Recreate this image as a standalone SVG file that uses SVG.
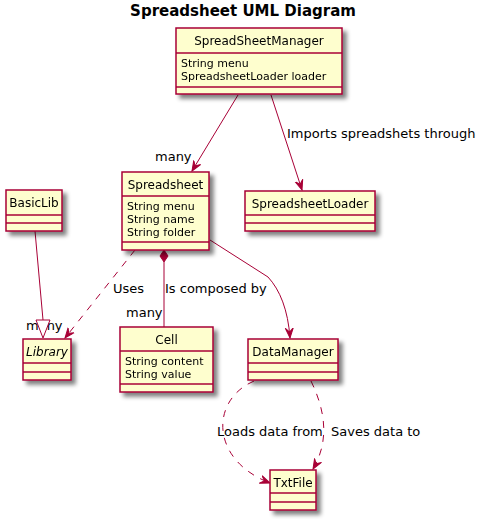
<svg xmlns="http://www.w3.org/2000/svg" width="485" height="519" viewBox="0 0 485 519">
<defs>
<filter id="sh" x="-20%" y="-20%" width="150%" height="150%">
<feGaussianBlur in="SourceAlpha" stdDeviation="2"/>
<feOffset dx="4" dy="4" result="b"/>
<feComponentTransfer><feFuncA type="linear" slope="0.5"/></feComponentTransfer>
<feMerge><feMergeNode/><feMergeNode in="SourceGraphic"/></feMerge>
</filter>
<marker id="arr" markerWidth="12" markerHeight="12" viewBox="0 0 12 12" refX="10" refY="6" orient="auto" markerUnits="userSpaceOnUse">
<path d="M0,2 L10,6 L0,10 L4,6 Z" fill="#A80036" stroke="#A80036" stroke-width="1"/>
</marker>
</defs>
<style>
.box{fill:#FEFECE;stroke:#A80036;stroke-width:1.5}
.sep{stroke:#A80036;stroke-width:1.5}
.nm{font-family:"DejaVu Sans",sans-serif;font-size:12px;fill:#000;text-anchor:middle}
.at{font-family:"DejaVu Sans",sans-serif;font-size:11px;fill:#000}
.lb{font-family:"DejaVu Sans",sans-serif;font-size:13px;fill:#000}
.ln{fill:none;stroke:#A80036;stroke-width:1}
.ds{stroke-dasharray:7,7}
.title{font-family:"DejaVu Sans",sans-serif;font-size:15px;font-weight:bold;fill:#000;text-anchor:middle}
</style>
<text class="title" x="243" y="16">Spreadsheet UML Diagram</text>

<g id="connectors">
<path class="ln" d="M238,95 L192,171" marker-end="url(#arr)"/>
<text class="lb" x="155" y="161">many</text>
<path class="ln" d="M271,95 L302,190" marker-end="url(#arr)"/>
<text class="lb" x="287" y="138">Imports spreadshets through</text>
<path class="ln" d="M210,240 L268,277 C280,290 288,310 290,338" marker-end="url(#arr)"/>
<path class="ln ds" d="M135,250 L65,338" marker-end="url(#arr)"/>
<text class="lb" x="113" y="293">Uses</text>
<text class="lb" x="26" y="330">many</text>
<path class="ln" d="M35,231 L43,320"/>
<path d="M36,320 L50,320 L43,338 Z" fill="#FFFFFF" stroke="#A80036" stroke-width="1"/>
<path class="ln" d="M164,262 L164,327"/>
<path d="M164,250 L168,256 L164,262 L160,256 Z" fill="#A80036" stroke="#A80036" stroke-width="1"/>
<text class="lb" x="165" y="293">Is composed by</text>
<text class="lb" x="126" y="317">many</text>
<path class="ln ds" d="M254,381 C210,400 210,460 270,483" marker-end="url(#arr)"/>
<text class="lb" x="217" y="436">Loads data from</text>
<path class="ln ds" d="M311,381 C325,410 330,440 313,469" marker-end="url(#arr)"/>
<text class="lb" x="331" y="436">Saves data to</text>
</g>

<g id="SpreadSheetManager" filter="url(#sh)">
<rect class="box" x="176" y="28" width="166" height="66"/>
<line class="sep" x1="176" y1="53" x2="342" y2="53"/>
<line class="sep" x1="176" y1="87" x2="342" y2="87"/>
<text class="nm" x="259" y="45">SpreadSheetManager</text>
<text class="at" x="181" y="67">String menu</text>
<text class="at" x="181" y="80">SpreadsheetLoader loader</text>
</g>

<g id="Spreadsheet" filter="url(#sh)">
<rect class="box" x="122" y="172" width="87" height="78"/>
<line class="sep" x1="122" y1="196" x2="209" y2="196"/>
<line class="sep" x1="122" y1="242" x2="209" y2="242"/>
<text class="nm" x="165.5" y="189">Spreadsheet</text>
<text class="at" x="127" y="210">String menu</text>
<text class="at" x="127" y="223">String name</text>
<text class="at" x="127" y="236">String folder</text>
</g>

<g id="SpreadsheetLoader" filter="url(#sh)">
<rect class="box" x="245" y="191" width="130" height="40"/>
<line class="sep" x1="245" y1="215" x2="375" y2="215"/>
<line class="sep" x1="245" y1="223" x2="375" y2="223"/>
<text class="nm" x="310" y="208">SpreadsheetLoader</text>
</g>

<g id="BasicLib" filter="url(#sh)">
<rect class="box" x="6" y="190" width="56" height="41"/>
<line class="sep" x1="6" y1="215" x2="62" y2="215"/>
<line class="sep" x1="6" y1="223" x2="62" y2="223"/>
<text class="nm" x="34" y="207">BasicLib</text>
</g>

<g id="Library" filter="url(#sh)">
<rect class="box" x="23" y="339" width="48" height="41"/>
<line class="sep" x1="23" y1="363" x2="71" y2="363"/>
<line class="sep" x1="23" y1="372" x2="71" y2="372"/>
<text class="nm" x="47" y="356" font-style="italic">Library</text>
</g>

<g id="Cell" filter="url(#sh)">
<rect class="box" x="120" y="327" width="93" height="65"/>
<line class="sep" x1="120" y1="351" x2="213" y2="351"/>
<line class="sep" x1="120" y1="384" x2="213" y2="384"/>
<text class="nm" x="166.5" y="344">Cell</text>
<text class="at" x="125" y="365">String content</text>
<text class="at" x="125" y="378">String value</text>
</g>

<g id="DataManager" filter="url(#sh)">
<rect class="box" x="248" y="339" width="90" height="41"/>
<line class="sep" x1="248" y1="363" x2="338" y2="363"/>
<line class="sep" x1="248" y1="372" x2="338" y2="372"/>
<text class="nm" x="293" y="356">DataManager</text>
</g>

<g id="TxtFile" filter="url(#sh)">
<rect class="box" x="270" y="470" width="46" height="40"/>
<line class="sep" x1="270" y1="493" x2="316" y2="493"/>
<line class="sep" x1="270" y1="502" x2="316" y2="502"/>
<text class="nm" x="293" y="487">TxtFile</text>
</g>
</svg>
